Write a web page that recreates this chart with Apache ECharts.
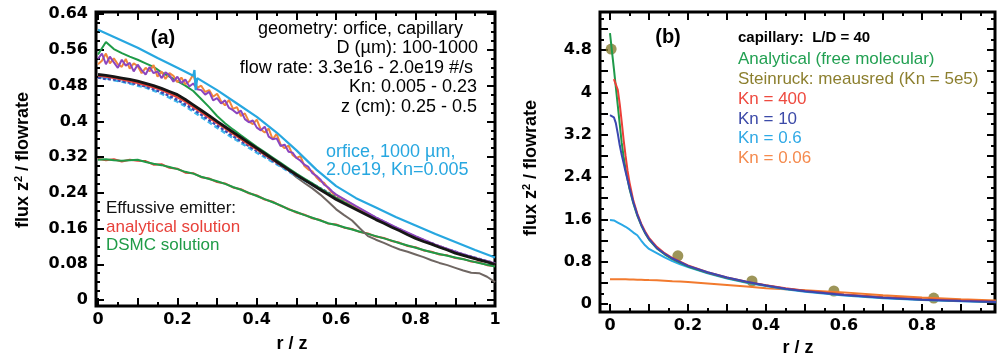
<!DOCTYPE html>
<html>
<head>
<meta charset="utf-8">
<script src="https://cdn.jsdelivr.net/npm/echarts@6/dist/echarts.min.js"></script>
<style>
  html, body { margin: 0; padding: 0; background: #fff; }
  #chart { width: 997px; height: 360px; }
</style>
</head>
<body>
<div id="chart"></div>
<script>
// ---------- panel (a) data ----------
const xA = [0,0.02,0.04,0.06,0.08,0.10,0.12,0.14,0.16,0.18,0.20,0.22,0.24,0.26,0.28,0.30,0.32,0.34,0.36,0.38,0.40,
  0.42,0.44,0.46,0.48,0.50,0.52,0.54,0.56,0.58,0.60,0.62,0.64,0.66,0.68,0.70,0.72,0.74,0.76,0.78,0.80,
  0.82,0.84,0.86,0.88,0.90,0.92,0.94,0.96,0.98,1.00];

const blackA = [0.505,0.503,0.500,0.497,0.494,0.490,0.485,0.480,0.474,0.467,0.460,0.449,0.437,0.425,0.413,0.400,0.388,0.376,0.364,0.352,0.340,
  0.328,0.316,0.304,0.292,0.280,0.269,0.258,0.247,0.236,0.225,0.216,0.207,0.198,0.189,0.180,0.172,0.163,0.155,0.146,0.138,
  0.131,0.125,0.118,0.112,0.105,0.100,0.095,0.090,0.085,0.080];

const effGreenA = [0.314,0.315,0.313,0.312,0.313,0.314,0.309,0.305,0.302,0.298,0.293,0.287,0.283,0.276,0.271,0.266,0.260,0.253,0.247,0.240,0.233,
  0.226,0.219,0.212,0.203,0.197,0.190,0.184,0.178,0.172,0.168,0.163,0.158,0.153,0.148,0.143,0.138,0.133,0.127,0.122,0.117,
  0.112,0.107,0.103,0.099,0.095,0.091,0.087,0.083,0.079,0.075];

const effRedA = [0.316,0.313,0.315,0.310,0.314,0.312,0.311,0.303,0.304,0.296,0.294,0.285,0.284,0.275,0.272,0.264,0.261,0.252,0.248,0.239,0.234,
  0.225,0.220,0.211,0.204,0.196,0.191,0.183,0.179,0.171,0.169,0.162,0.159,0.152,0.149,0.142,0.139,0.132,0.128,0.121,0.118,
  0.111,0.108,0.102,0.100,0.094,0.092,0.086,0.084,0.078,0.076];

const greenA = [0.550,0.578,0.562,0.553,0.545,0.538,0.530,0.522,0.510,0.500,0.490,0.480,0.468,0.450,0.432,0.412,0.396,0.382,0.369,0.356,0.343,
  0.331,0.319,0.307,0.295,0.283,0.272,0.261,0.250,0.239,0.228,0.219,0.210,0.200,0.191,0.182,0.174,0.165,0.157,0.148,0.140,
  0.133,0.126,0.119,0.113,0.106,0.100,0.095,0.090,0.085,0.080];

// noisy DSMC runs, sampled finer
const xNoisy = [0,0.01,0.02,0.03,0.04,0.05,0.06,0.07,0.08,0.09,0.10,0.11,0.12,0.13,0.14,0.15,0.16,0.17,0.18,0.19,0.20,
  0.21,0.22,0.23,0.24,0.25,0.26,0.27,0.28,0.29,0.30,0.31,0.32,0.33,0.34,0.35,0.36,0.37,0.38,0.39,0.40,
  0.41,0.42,0.43,0.44,0.45,0.46,0.47,0.48,0.49,0.50,0.51,0.52,0.53,0.54,0.55,0.56,0.57,0.58,0.59,0.60,
  0.65,0.70,0.75,0.80,0.85,0.90,0.95,1.00];

const purpleA = [0.540,0.552,0.528,0.545,0.532,0.520,0.538,0.525,0.531,0.512,0.527,0.515,0.505,0.522,0.508,0.512,0.497,0.510,0.503,0.489,0.500,
  0.486,0.494,0.478,0.485,0.472,0.470,0.460,0.466,0.447,0.452,0.440,0.447,0.430,0.425,0.418,0.424,0.405,0.398,0.402,0.386,
  0.380,0.388,0.366,0.360,0.362,0.345,0.348,0.332,0.330,0.318,0.312,0.303,0.298,0.284,0.278,0.270,0.258,0.252,0.243,0.236,
  0.210,0.185,0.163,0.143,0.124,0.108,0.094,0.082];

const orangeA = [0.528,0.536,0.552,0.530,0.541,0.528,0.522,0.540,0.518,0.530,0.524,0.508,0.520,0.512,0.526,0.500,0.512,0.495,0.508,0.502,0.488,
  0.498,0.483,0.490,0.505,0.475,0.480,0.466,0.470,0.455,0.462,0.445,0.436,0.448,0.428,0.432,0.412,0.418,0.400,0.394,0.404,
  0.382,0.375,0.384,0.360,0.372,0.348,0.340,0.346,0.325,0.318,0.322,0.300,0.292,0.288,0.275,0.266,0.262,0.250,0.240,0.235,
  0.209,0.184,0.162,0.142,0.123,0.107,0.093,0.081];

const darkBlueA = [0.498,0.495,0.494,0.490,0.487,0.483,0.478,0.472,0.465,0.457,0.448,0.438,0.427,0.415,0.403,0.391,0.379,0.367,0.356,0.345,0.334,
  0.323,0.312,0.301,0.290,0.280,0.270,0.260,0.250,0.240,0.230,0.220,0.211,0.202,0.193,0.184,0.175,0.166,0.158,0.149,0.141,
  0.134,0.127,0.120,0.114,0.108,0.102,0.097,0.092,0.087,0.082];

const cyanA = [0.500,0.497,0.492,0.489,0.485,0.480,0.476,0.469,0.462,0.453,0.444,0.434,0.422,0.410,0.398,0.386,0.374,0.363,0.352,0.341,0.330,
  0.320,0.309,0.299,0.288,0.278,0.268,0.258,0.248,0.238,0.228,0.219,0.210,0.201,0.192,0.183,0.174,0.165,0.157,0.148,0.140,
  0.133,0.126,0.119,0.113,0.107,0.101,0.096,0.091,0.086,0.081];

const redA = [0.502,0.500,0.497,0.494,0.490,0.486,0.481,0.476,0.470,0.462,0.454,0.444,0.432,0.420,0.408,0.396,0.384,0.372,0.360,0.348,0.337,
  0.325,0.314,0.302,0.291,0.280,0.269,0.259,0.248,0.238,0.228,0.218,0.209,0.200,0.191,0.182,0.173,0.165,0.156,0.148,0.140,
  0.133,0.126,0.120,0.113,0.107,0.101,0.096,0.091,0.086,0.081];

const grayA = [0.503,0.501,0.498,0.495,0.492,0.488,0.483,0.478,0.472,0.465,0.458,0.447,0.436,0.424,0.412,0.399,0.387,0.375,0.362,0.350,0.338,
  0.326,0.314,0.302,0.290,0.275,0.262,0.250,0.236,0.220,0.203,0.190,0.178,0.160,0.143,0.135,0.128,0.120,0.113,0.108,0.102,
  0.096,0.089,0.083,0.078,0.072,0.066,0.061,0.060,0.052,0.040];

const xBlueA = [0,0.05,0.10,0.15,0.20,0.24,0.243,0.246,0.25,0.30,0.35,0.40,0.45,0.50,0.55,0.60,0.65,0.70,0.75,0.80,0.85,0.90,0.95,1.00];
const lightBlueA = [0.605,0.585,0.565,0.542,0.520,0.502,0.515,0.470,0.497,0.470,0.440,0.410,0.375,0.335,0.292,0.255,0.228,0.207,0.186,0.167,0.148,0.130,0.112,0.095];

const aXLabels = [0, 0.2, 0.4, 0.6, 0.8, 1];
const aXMajor = [0,0.1,0.2,0.3,0.4,0.5,0.6,0.7,0.8,0.9,1];
const aXMinor = [0.05,0.15,0.25,0.35,0.45,0.55,0.65,0.75,0.85,0.95];
const aYLabels = [0, 0.08, 0.16, 0.24, 0.32, 0.4, 0.48, 0.56, 0.64];
const aYMinor = [0.02,0.04,0.06,0.1,0.12,0.14,0.18,0.2,0.22,0.26,0.28,0.3,0.34,0.36,0.38,0.42,0.44,0.46,0.5,0.52,0.54,0.58,0.6,0.62];

// ---------- panel (b) data ----------
const xB = [0,0.005,0.01,0.015,0.02,0.025,0.03,0.035,0.04,0.045,0.05,0.06,0.07,0.08,0.09,0.10,0.12,0.14,0.16,0.18,0.20,
  0.25,0.30,0.35,0.40,0.45,0.50,0.60,0.70,0.80,0.90,1.00];
const analyticB = [5.12,4.78,4.45,4.10,3.75,3.40,3.05,2.78,2.55,2.36,2.18,1.90,1.67,1.49,1.34,1.22,1.05,0.94,0.85,0.78,0.71,
  0.59,0.49,0.41,0.35,0.29,0.245,0.175,0.125,0.085,0.060,0.040];
const kn400B = [null,null,4.25,4.22,4.05,3.78,3.45,3.10,2.80,2.52,2.30,1.95,1.71,1.52,1.37,1.25,1.08,0.96,0.87,0.80,0.73,
  0.60,0.50,0.42,0.355,0.30,0.25,0.18,0.13,0.09,0.065,0.045];
const kn10B = [3.57,3.56,3.53,3.42,3.22,3.00,2.82,2.66,2.50,2.35,2.20,1.92,1.69,1.50,1.35,1.23,1.06,0.95,0.86,0.79,0.72,
  0.60,0.50,0.42,0.35,0.29,0.24,0.17,0.12,0.08,0.055,0.035];
const kn06B = [1.59,1.59,1.58,1.56,1.54,1.52,1.50,1.48,1.46,1.44,1.41,1.35,1.30,1.20,1.11,1.04,0.96,0.88,0.81,0.75,0.70,
  0.58,0.48,0.40,0.34,0.28,0.23,0.16,0.11,0.075,0.05,0.03];
const kn006B = [0.47,0.47,0.47,0.47,0.47,0.47,0.47,0.468,0.468,0.466,0.465,0.463,0.46,0.458,0.455,0.452,0.447,0.44,0.432,0.425,0.418,
  0.39,0.36,0.33,0.30,0.28,0.26,0.22,0.165,0.125,0.09,0.065];
const steinX = [0.003, 0.174, 0.364, 0.574, 0.83];
const steinY = [4.82, 0.91, 0.435, 0.246, 0.113];

const bXLabels = [0, 0.2, 0.4, 0.6, 0.8];
const bXMajor = [0,0.1,0.2,0.3,0.4,0.5,0.6,0.7,0.8,0.9];
const bXMinor = [0.05,0.15,0.25,0.35,0.45,0.55,0.65,0.75,0.85,0.95];
const bYLabels = [0, 0.8, 1.6, 2.4, 3.2, 4, 4.8];
const bYMajor = [0,0.4,0.8,1.2,1.6,2,2.4,2.8,3.2,3.6,4,4.4,4.8,5.2];
const bYMinor = [0.2,0.6,1,1.4,1.8,2.2,2.6,3,3.4,3.8,4.2,4.6,5,5.4];

function pairs(xs, ys) {
  return xs.map(function (x, i) { return [x, ys[i]]; });
}

const tickFont = { fontFamily: 'DejaVu Sans', fontWeight: 'bold', fontSize: 16, color: '#000' };
const tickLine = { color: '#000', width: 2 };

function xAxes(grid, min, max, labels, major, minor) {
  const base = { gridIndex: grid, type: 'value', min: min, max: max, splitLine: { show: false },
    axisLine: { show: false, onZero: false } };
  return [
    Object.assign({}, base, { position: 'bottom', axisTick: { inside: true, length: 8, customValues: major, lineStyle: tickLine },
      axisLabel: Object.assign({ customValues: labels, margin: 6 }, tickFont) }),
    Object.assign({}, base, { position: 'bottom', axisTick: { inside: true, length: 4, customValues: minor, lineStyle: tickLine },
      axisLabel: { show: false } }),
    Object.assign({}, base, { position: 'top', axisTick: { inside: true, length: 8, customValues: major, lineStyle: tickLine },
      axisLabel: { show: false } }),
    Object.assign({}, base, { position: 'top', axisTick: { inside: true, length: 4, customValues: minor, lineStyle: tickLine },
      axisLabel: { show: false } })
  ];
}

function yAxes(grid, min, max, labels, major, minor) {
  const base = { gridIndex: grid, type: 'value', min: min, max: max, splitLine: { show: false },
    axisLine: { show: false, onZero: false } };
  return [
    Object.assign({}, base, { position: 'left', axisTick: { inside: true, length: 8, customValues: major, lineStyle: tickLine },
      axisLabel: Object.assign({ customValues: labels, margin: 8 }, tickFont) }),
    Object.assign({}, base, { position: 'left', axisTick: { inside: true, length: 4, customValues: minor, lineStyle: tickLine },
      axisLabel: { show: false } }),
    Object.assign({}, base, { position: 'right', axisTick: { inside: true, length: 8, customValues: major, lineStyle: tickLine },
      axisLabel: { show: false } }),
    Object.assign({}, base, { position: 'right', axisTick: { inside: true, length: 4, customValues: minor, lineStyle: tickLine },
      axisLabel: { show: false } })
  ];
}

function line(xi, yi, data, color, width, dash) {
  return {
    type: 'line', xAxisIndex: xi, yAxisIndex: yi, data: data, showSymbol: false, symbol: 'none',
    animation: false, clip: true, connectNulls: false,
    lineStyle: { color: color, width: width || 2, type: dash || 'solid' }
  };
}

function txt(x, y, text, color, font, align) {
  return { type: 'text', x: x, y: y, style: { text: text, fill: color, font: font, align: align || 'left', verticalAlign: 'middle' } };
}

const fA = '18px "Liberation Sans", Arial, sans-serif';
const fB = '17px "Liberation Sans", Arial, sans-serif';
const fTitle = 'bold 20px "Liberation Sans", Arial, sans-serif';
const fAxisName = 'bold 18px "Liberation Sans", Arial, sans-serif';

const chart = echarts.init(document.getElementById('chart'));
chart.setOption({
  backgroundColor: '#fff',
  animation: false,
  grid: [
    { left: 96, right: 502, top: 12, bottom: 54, show: true, borderColor: '#000', borderWidth: 3, backgroundColor: 'transparent' },
    { left: 600, right: 2, top: 12, bottom: 48, show: true, borderColor: '#000', borderWidth: 3, backgroundColor: 'transparent' }
  ],
  xAxis: xAxes(0, -0.005, 1, aXLabels, aXMajor, aXMinor).concat(xAxes(1, -0.0256, 0.987, bXLabels, bXMajor, bXMinor)),
  yAxis: yAxes(0, -0.0135, 0.645, aYLabels, aYLabels, aYMinor).concat(yAxes(1, -0.151, 5.52, bYLabels, bYMajor, bYMinor)),
  series: [
    line(0, 0, pairs(xA, effRedA), '#e8423b', 2),
    line(0, 0, pairs(xA, effGreenA), '#1f9b47', 2),
    line(0, 0, pairs(xA, grayA), '#6f6662', 2),
    line(0, 0, pairs(xA, cyanA), '#3fb8ec', 2.5, [5, 3]),
    line(0, 0, pairs(xA, darkBlueA), '#3d4cb5', 2.5, [3, 2]),
    line(0, 0, pairs(xA, redA), '#e8423b', 2),
    line(0, 0, pairs(xA, greenA), '#1f9b47', 2),
    line(0, 0, pairs(xNoisy, orangeA), '#f2863a', 2),
    line(0, 0, pairs(xNoisy, purpleA), '#8b45bf', 2),
    line(0, 0, pairs(xA, blackA), '#161616', 2.8),
    line(0, 0, pairs(xBlueA, lightBlueA), '#27a7e0', 2.2),

    line(4, 4, pairs(xB, kn006B), '#f27a2e', 2),
    line(4, 4, pairs(xB, kn06B), '#2aa8e6', 2),
    line(4, 4, pairs(xB, analyticB), '#1f9a4a', 2),
    line(4, 4, pairs(xB, kn400B), '#ec3f38', 2),
    line(4, 4, pairs(xB, kn10B), '#3b47b0', 2),
    {
      type: 'scatter', xAxisIndex: 4, yAxisIndex: 4, data: pairs(steinX, steinY), symbol: 'circle', symbolSize: 11,
      itemStyle: { color: '#847a30' }, animation: false
    }
  ],
  graphic: [
    txt(163, 38, '(a)', '#000', fTitle, 'center'),
    txt(463, 29, 'geometry: orfice, capillary', '#000', fA, 'right'),
    txt(478, 48, 'D (\u00b5m): 100-1000', '#000', fA, 'right'),
    txt(473, 68, 'flow rate: 3.3e16 - 2.0e19 #/s', '#000', fA, 'right'),
    txt(477, 87, 'Kn: 0.005 - 0.23', '#000', fA, 'right'),
    txt(477, 107, 'z (cm): 0.25 - 0.5', '#000', fA, 'right'),
    txt(326, 152, 'orfice, 1000 \u00b5m,', '#27a7e0', fA),
    txt(326, 170, '2.0e19, Kn=0.005', '#27a7e0', fA),
    txt(106, 208, 'Effussive emitter:', '#111', fB),
    txt(106, 227, 'analytical solution', '#e8423b', fB),
    txt(106, 245, 'DSMC solution', '#1f9b47', fB),
    txt(292, 344, 'r / z', '#000', fAxisName, 'center'),
    {
      type: 'text', x: 23, y: 160, rotation: Math.PI / 2,
      style: { text: 'flux z{s|2} / flowrate', fill: '#000', font: fAxisName,
        align: 'center', verticalAlign: 'middle',
        rich: { s: { font: 'bold 11px "Liberation Sans", Arial, sans-serif', fill: '#000', padding: [0, 0, 9, 0] } } }
    },

    txt(668, 37, '(b)', '#000', fTitle, 'center'),
    txt(738, 38, 'capillary:  L/D = 40', '#000', 'bold 15px "Liberation Sans", Arial, sans-serif'),
    txt(738, 59, 'Analytical (free molecular)', '#22a052', fB),
    txt(738, 79, 'Steinruck: meausred (Kn = 5e5)', '#8c7f2e', fB),
    txt(738, 99, 'Kn = 400', '#ee4a3f', fB),
    txt(738, 119, 'Kn = 10', '#3c4aa8', fB),
    txt(738, 138, 'Kn = 0.6', '#2fa9e6', fB),
    txt(738, 158, 'Kn = 0.06', '#f58a4d', fB),
    txt(798, 348, 'r / z', '#000', fAxisName, 'center'),
    {
      type: 'text', x: 531, y: 168, rotation: Math.PI / 2,
      style: { text: 'flux z{s|2} / flowrate', fill: '#000', font: fAxisName,
        align: 'center', verticalAlign: 'middle',
        rich: { s: { font: 'bold 11px "Liberation Sans", Arial, sans-serif', fill: '#000', padding: [0, 0, 9, 0] } } }
    }
  ]
});
</script>
</body>
</html>
